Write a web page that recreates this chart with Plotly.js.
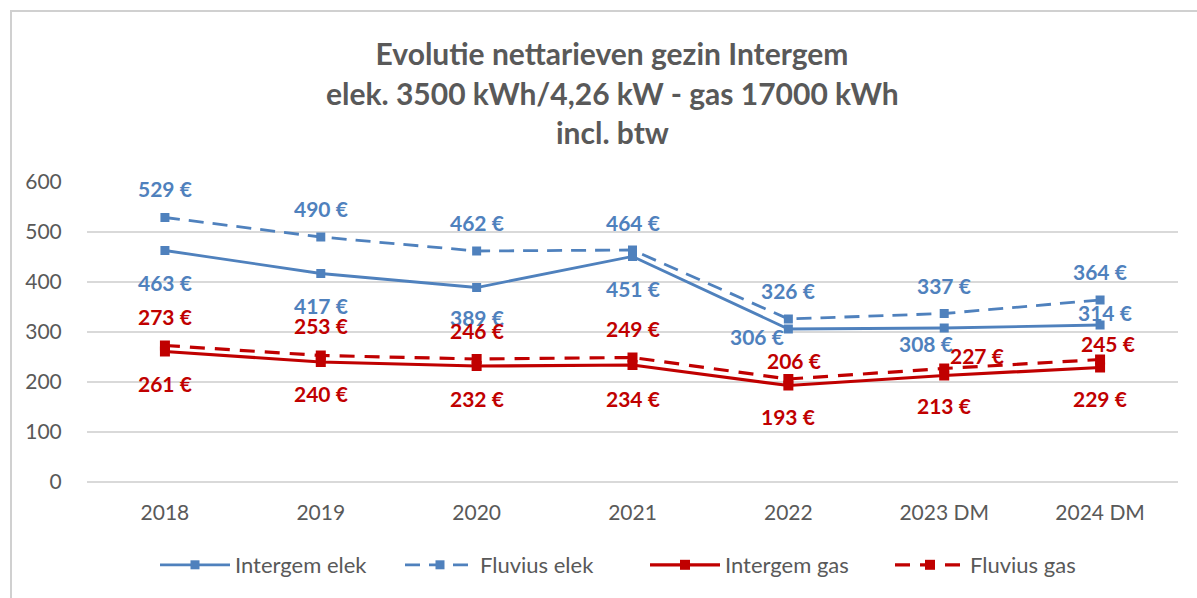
<!DOCTYPE html>
<html>
<head>
<meta charset="utf-8">
<script src="https://cdn.plot.ly/plotly-3.0.1.min.js"></script>
<style>
  html, body { margin: 0; padding: 0; background: #ffffff; }
  #chart { width: 1197px; height: 598px; }
</style>
</head>
<body>
<div id="chart"></div>
<script>
// ---- data ----
const categories = ['2018', '2019', '2020', '2021', '2022', '2023 DM', '2024 DM'];
const intergemElek = [463, 417, 389, 451, 306, 308, 314];
const fluviusElek = [529, 490, 462, 464, 326, 337, 364];
const intergemGas = [261, 240, 232, 234, 193, 213, 229];
const fluviusGas = [273, 253, 246, 249, 206, 227, 245];
const yTicks = [0, 100, 200, 300, 400, 500, 600];
const titleLines = ['Evolutie nettarieven gezin Intergem', 'elek. 3500 kWh/4,26 kW - gas 17000 kWh', 'incl. btw'];

// ---- styles ----
const BLUE = '#4F81BD';
const RED = '#C00000';
const GREY = '#595959';
const FONT = 'Lato, "Open Sans", sans-serif';

// label placement (pixel shifts relative to each point)
const labelStyle = {
  intergemElek: { dx: [0, 0, 0, 0, -31, -18, 5], dy: [-32, -32, -30, -32, -7, -15, 13] },
  fluviusElek:  { dx: [0, 0, 0, 0, 0, 0, 0], dy: [29, 29, 29, 28, 29, 28, 29] },
  intergemGas:  { dx: [0, 0, 0, 0, 0, 0, 0], dy: [-32, -31, -32, -33, -31, -30, -31] },
  fluviusGas:   { dx: [0, 0, 0, 0, 6, 33, 8], dy: [29, 30, 29, 29, 19, 13, 16] }
};

function makeTrace(name, values, color, dash, width, msize) {
  return {
    type: 'scatter', mode: 'lines+markers', name: name,
    x: categories, y: values,
    line: { color: color, width: width, dash: dash },
    marker: { symbol: 'square', size: msize, color: color },
    cliponaxis: false, hoverinfo: 'x+y'
  };
}

const traces = [
  makeTrace('Intergem elek', intergemElek, BLUE, 'solid', 2.8, 9),
  makeTrace('Fluvius elek', fluviusElek, BLUE, '15px,9px', 2.8, 9),
  makeTrace('Intergem gas', intergemGas, RED, 'solid', 3.2, 10),
  makeTrace('Fluvius gas', fluviusGas, RED, '15px,10px', 3.2, 10)
];

const annotations = [];
function addLabels(values, color, st) {
  values.forEach((v, i) => {
    annotations.push({
      // category axis: position by category index
      x: i, y: v, xref: 'x', yref: 'y',
      text: v + ' €', showarrow: false,
      xanchor: 'center', yanchor: 'middle',
      xshift: st.dx[i], yshift: st.dy[i],
      font: { family: FONT, size: 21, color: color, weight: 'bold' }
    });
  });
}
addLabels(intergemElek, BLUE, labelStyle.intergemElek);
addLabels(fluviusElek, BLUE, labelStyle.fluviusElek);
addLabels(intergemGas, RED, labelStyle.intergemGas);
addLabels(fluviusGas, RED, labelStyle.fluviusGas);

// title lines 2 and 3
const W = 1197, H = 598, L = 87, R = 19, T = 182, B = 116;
const pw = W - L - R, ph = H - T - B;
function px2paperX(px) { return (px - L) / pw; }
function px2paperY(py) { return (H - B - py) / ph; }
[1, 2].forEach((k) => {
  annotations.push({
    xref: 'paper', yref: 'paper', x: px2paperX(612), y: px2paperY([54, 93, 132][k]),
    xanchor: 'center', yanchor: 'middle', showarrow: false,
    text: '<b>' + titleLines[k] + '</b>',
    font: { family: FONT, size: 30, color: GREY }
  });
});

const layout = {
  width: W, height: H,
  margin: { l: L, r: R, t: T, b: B, pad: 0 },
  paper_bgcolor: '#ffffff', plot_bgcolor: '#ffffff',
  font: { family: FONT, size: 20, color: GREY },
  title: {
    text: '<b>' + titleLines[0] + '</b>',
    x: 612 / W, xref: 'container', xanchor: 'center',
    y: 1 - 54 / H, yref: 'container', yanchor: 'middle',
    font: { family: FONT, size: 30, color: GREY }
  },
  xaxis: {
    type: 'category', range: [-0.5, 6.5], showgrid: false, zeroline: false, showline: false,
    ticks: 'outside', ticklen: 12, tickcolor: 'rgba(0,0,0,0)',
    tickfont: { family: FONT, size: 21, color: GREY }
  },
  yaxis: {
    range: [0, 600], tickvals: yTicks, ticktext: yTicks.map(String),
    showgrid: true, gridcolor: '#d9d9d9', gridwidth: 1.5,
    zeroline: true, zerolinecolor: '#d9d9d9', zerolinewidth: 1.5, showline: false,
    ticks: 'outside', ticklen: 20, tickcolor: 'rgba(0,0,0,0)',
    tickfont: { family: FONT, size: 21, color: GREY }
  },
  legend: {
    orientation: 'h', x: px2paperX(155), xanchor: 'left',
    y: px2paperY(565), yanchor: 'middle',
    font: { family: FONT, size: 22, color: GREY },
    itemwidth: 70, entrywidth: 160, entrywidthmode: 'pixels',
    bgcolor: 'rgba(0,0,0,0)'
  },
  shapes: [{
    type: 'rect', xref: 'paper', yref: 'paper',
    x0: px2paperX(11), y0: px2paperY(11), x1: px2paperX(1300), y1: px2paperY(700),
    line: { color: '#d0d0d0', width: 2 }, fillcolor: 'rgba(0,0,0,0)', layer: 'below'
  }],
  annotations: annotations,
  showlegend: true
};

Plotly.newPlot('chart', traces, layout, { displayModeBar: false, staticPlot: true });
</script>
</body>
</html>
